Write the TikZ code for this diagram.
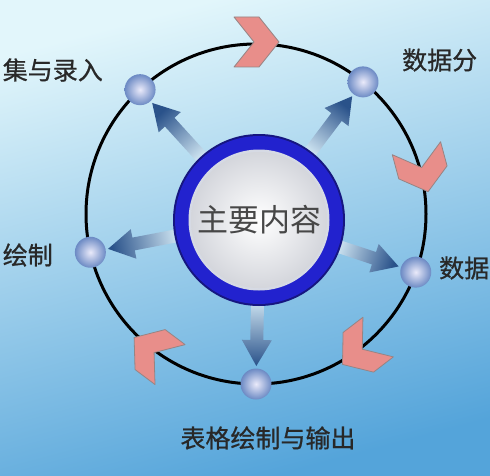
\documentclass[tikz,border=0pt]{standalone}
\usepackage{fontspec}
\newfontfamily\cjk{Noto Sans CJK SC}
\newfontfamily\cjkmid[FakeBold=0.8]{Noto Sans CJK SC}
\usetikzlibrary{calc}
\definecolor{bgtop}{RGB}{226,246,251}
\definecolor{bgbottom}{RGB}{84,164,218}
\definecolor{ringblue}{RGB}{34,34,206}
\definecolor{ringdark}{RGB}{22,22,128}
\definecolor{bevelgray}{RGB}{214,218,228}
\definecolor{discgray}{RGB}{212,214,220}
\definecolor{arrowdark}{RGB}{42,82,138}
\definecolor{arrowlight}{RGB}{210,232,244}
\definecolor{chevronfill}{RGB}{232,142,138}
\definecolor{chevronedge}{RGB}{150,132,132}
\definecolor{ballin}{RGB}{234,234,250}
\definecolor{ballout}{RGB}{108,138,196}
\definecolor{labelgray}{RGB}{40,40,40}

\begin{document}
\begin{tikzpicture}[
    x=1pt, y=1pt,
    ball/.style={circle, inner sep=0pt, minimum size=31pt, inner color=ballin, outer color=ballout},
    itemtext/.style={font=\cjkmid\fontsize{25}{30}\selectfont, text=labelgray, inner sep=0pt},
    hubtext/.style={font=\cjk\fontsize{31}{34}\selectfont, text=black!72, inner sep=0pt},
    chevron/.style={fill=chevronfill, draw=chevronedge, line width=0.8pt, line join=round},
    cycleline/.style={draw=black, line width=3pt}
]

% Background
\shade[top color=bgtop, bottom color=bgbottom, shading angle=15] (0,0) rectangle (490,475);
\useasboundingbox (0,0) rectangle (490,475);
\clip (0,0) rectangle (490,475);

\coordinate (C) at (256,261);
\coordinate (hub) at (259,255);

% Outer cycle
\draw[cycleline] (C) circle (170);

% Stations on the cycle
\node[ball] (ncollect) at ($(C)+(133:170)$) {};
\node[ball] (nanalyse) at ($(C)+(51:170)$) {};
\node[ball] (nprocess) at ($(C)+(-20:170)$) {};
\node[ball] (ntable) at ($(C)+(-90:170)$) {};
\node[ball] (nplot) at ($(C)+(193:170)$) {};

% Chevrons along the cycle
\foreach \a in {90,15,-52.5,-127}{
  \filldraw[chevron, shift={($(C)+(\a:172)$)}, rotate=\a-90]
    (-22,25) -- (3,25) -- (23,0) -- (3,-25) -- (-22,-25) -- (-2,0) -- cycle;
}

% Arrows from the hub
\foreach \nd in {ncollect,nanalyse,nprocess,ntable,nplot}{
  \path let \p1=($(\nd)-(hub)$), \n1={atan2(\y1,\x1)}, \n2={veclen(\x1,\y1)} in
    \pgfextra{\xdef\arrang{\n1}\xdef\arrlen{\n2}};
  \pgfmathsetmacro\tipr{\arrlen-18}
  \pgfmathsetmacro\baser{\tipr-26}
  \pgfmathsetmacro\sa{\arrang-90}
  \shade[top color=arrowdark, bottom color=arrowlight, shading angle=\sa, shift={(hub)}, rotate=\arrang]
    (78,-6.5) -- (\baser,-6.5) -- (\baser,-15) -- (\tipr,0) -- (\baser,15) -- (\baser,6.5) -- (78,6.5) -- cycle;
}

% Hub
\fill[ringdark] (hub) circle (86);
\fill[ringblue] (hub) circle (84);
\fill[bevelgray] (hub) circle (70.5);
\shade[inner color=white, outer color=discgray] (hub) circle (68);
\node[hubtext] (center) at (hub) {主要内容};

% Labels
\node[itemtext, anchor=east] (lcollect) at (103,405) {集与录入};
\node[itemtext, anchor=west] (lanalyse) at (402,415) {数据分};
\node[itemtext, anchor=west] (lprocess) at (439,207) {数据};
\node[itemtext] (ltable) at (268,37) {表格绘制与输出};
\node[itemtext, anchor=east] (lplot) at (53,220) {绘制};

\end{tikzpicture}
\end{document}
